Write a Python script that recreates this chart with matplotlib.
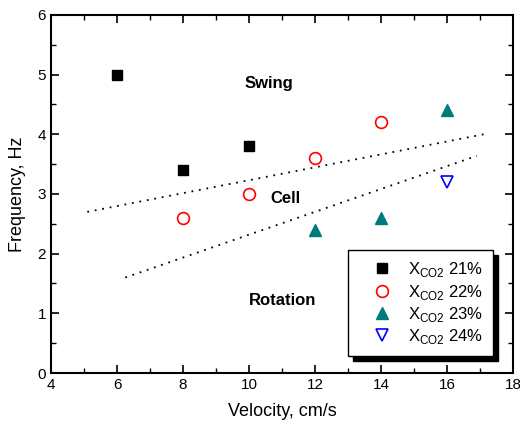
import matplotlib
matplotlib.use("Agg")
import matplotlib.pyplot as plt
from matplotlib.ticker import MultipleLocator

plt.rcParams['font.family'] = ['Liberation Sans', 'DejaVu Sans']
plt.rcParams['mathtext.fontset'] = 'custom'
plt.rcParams['mathtext.rm'] = 'Liberation Sans'

# data
v21 = [6, 8, 10]
f21 = [5.0, 3.4, 3.8]
v22 = [8, 10, 12, 14]
f22 = [2.6, 3.0, 3.6, 4.2]
v23 = [12, 14, 16]
f23 = [2.4, 2.6, 4.4]
v24 = [16]
f24 = [3.2]

# regime boundaries (dotted)
upper_x = [5.1, 17.1]
upper_y = [2.7, 4.0]
lower_x = [6.25, 16.9]
lower_y = [1.6, 3.64]

fig = plt.figure(figsize=(5.2, 4.28), dpi=100)
ax = fig.add_axes([0.098, 0.1285, 0.889, 0.8365])

ax.plot(upper_x, upper_y, color='k', ls=(0, (1, 3.2)), lw=1.3)
ax.plot(lower_x, lower_y, color='k', ls=(0, (1, 3.2)), lw=1.3)

ax.plot(v21, f21, 's', color='k', ms=7.5, ls='none', label=r'X$_\mathregular{CO2}$ 21%')
ax.plot(v22, f22, 'o', mfc='none', mec='red', mew=1.2, ms=8.5, ls='none', label=r'X$_\mathregular{CO2}$ 22%')
ax.plot(v23, f23, '^', color='#007b7b', ms=8.5, ls='none', label=r'X$_\mathregular{CO2}$ 23%')
ax.plot(v24, f24, 'v', mfc='none', mec='blue', mew=1.2, ms=8.5, ls='none', label=r'X$_\mathregular{CO2}$ 24%')

ax.text(10.6, 4.86, 'Swing', fontsize=12, fontweight='bold', ha='center', va='center')
ax.text(11.1, 2.93, 'Cell', fontsize=12, fontweight='bold', ha='center', va='center')
ax.text(11.0, 1.22, 'Rotation', fontsize=12, fontweight='bold', ha='center', va='center')

ax.set_xlim(4, 18)
ax.set_ylim(0, 6)
ax.xaxis.set_major_locator(MultipleLocator(2))
ax.xaxis.set_minor_locator(MultipleLocator(1))
ax.yaxis.set_major_locator(MultipleLocator(1))
ax.yaxis.set_minor_locator(MultipleLocator(0.5))
ax.tick_params(which='both', direction='in', top=True, right=True, labelsize=11)
ax.tick_params(which='major', length=6, width=1.2)
ax.tick_params(which='minor', length=3.5, width=1)
for s in ax.spines.values():
    s.set_linewidth(1.5)

ax.set_xlabel('Velocity, cm/s', fontsize=13, labelpad=8)
ax.set_ylabel('Frequency, Hz', fontsize=13, labelpad=8)

leg = ax.legend(loc='lower right', bbox_to_anchor=(0.957, 0.047), fontsize=12,
                fancybox=False, edgecolor='k', framealpha=1,
                shadow={'color': 'black', 'alpha': 1, 'ox': 3.5, 'oy': -3.5},
                handlelength=2.8, handletextpad=0.2, labelspacing=0.2,
                borderpad=0.6, borderaxespad=0)
leg.get_frame().set_linewidth(1)

fig.savefig('out.png', dpi=100)
